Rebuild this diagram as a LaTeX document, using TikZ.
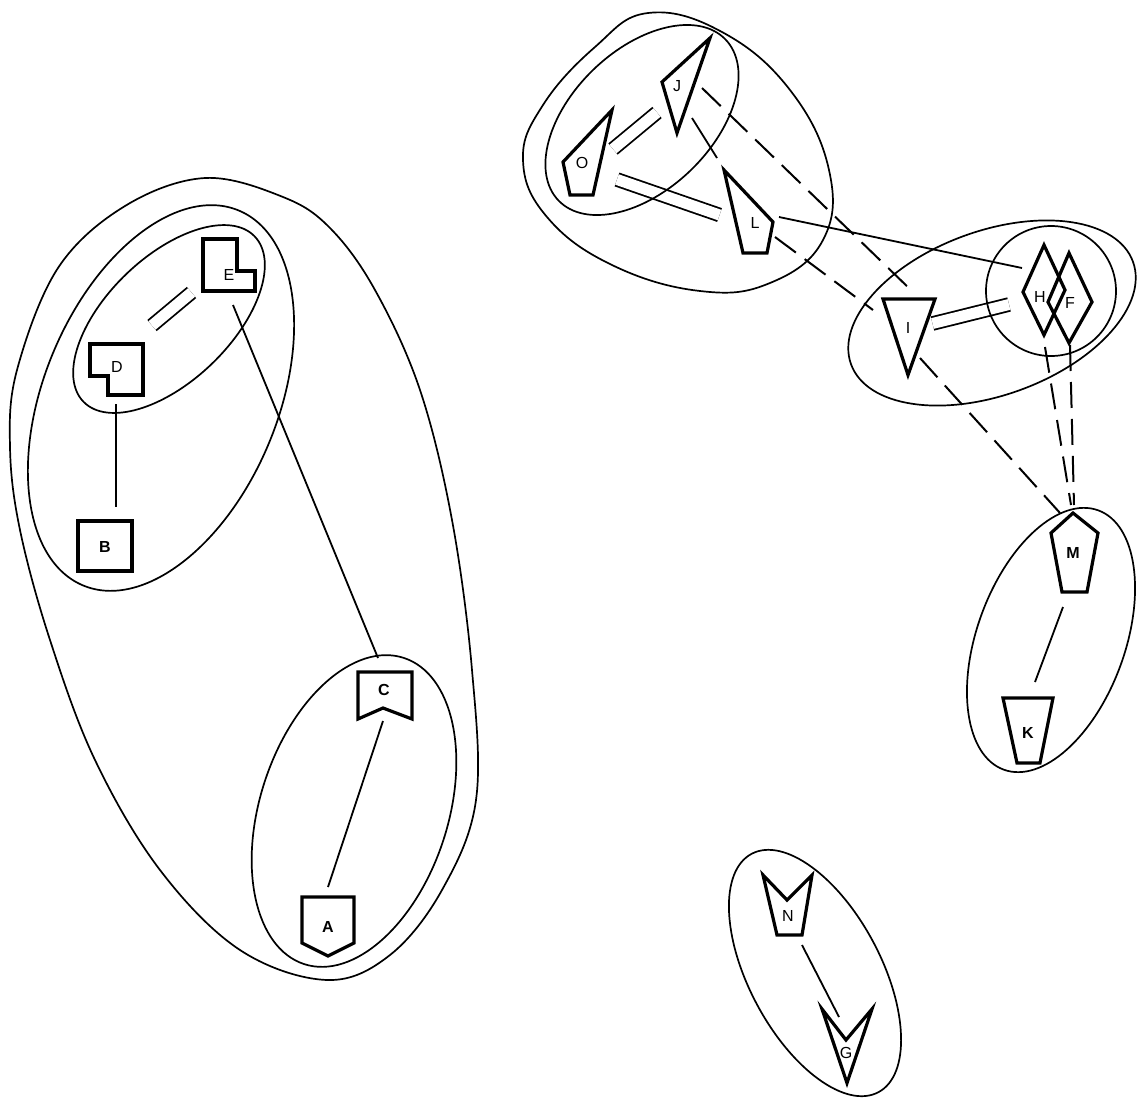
\documentclass[tikz,border=0pt]{standalone}
\usepackage{fontspec}
\setmainfont{Liberation Sans}
\begin{document}
\begin{tikzpicture}[x=1pt,y=-1pt,
  shp/.style={line width=3.2pt, line join=miter},
  conn/.style={line width=1.8pt},
  dsh/.style={line width=2pt, dash pattern=on 26pt off 11pt},
  dbl/.style={double, double distance=11pt, line width=1.8pt},
  grp/.style={line width=1.7pt},
  lbl/.style={font=\fontsize{16}{16}\selectfont, inner sep=0pt},
  lblb/.style={font=\fontsize{16}{16}\selectfont\bfseries, inner sep=0pt}]
\useasboundingbox (0,0) rectangle (1138,1101);
\fill[white] (0,0) rectangle (1138,1101);

% connector end points
\coordinate (dE) at (152,325.5);   \coordinate (eD) at (191.5,292.5);
\coordinate (dB) at (116,404);     \coordinate (bD) at (116,507);
\coordinate (eC) at (233,305);     \coordinate (cE) at (378,658);
\coordinate (cA) at (383,721);     \coordinate (aC) at (328,887);
\coordinate (oJ) at (613,149);     \coordinate (jO) at (657,112.5);
\coordinate (oL) at (617,179.5);   \coordinate (lO) at (719.5,215);
\coordinate (jL) at (692,118);     \coordinate (lJ) at (717,158);
\coordinate (lH) at (779,217);     \coordinate (hL) at (1022,268);
\coordinate (jI) at (702,88);      \coordinate (iJ) at (913,292);
\coordinate (lI) at (775,237);     \coordinate (iL) at (873,310);
\coordinate (iH) at (932.5,323.5); \coordinate (hI) at (1009,304.5);
\coordinate (iM) at (920,358);     \coordinate (mI) at (1060,513);
\coordinate (hM) at (1045,347);    \coordinate (mH) at (1071,505);
\coordinate (fM) at (1070,345);    \coordinate (mF) at (1074,505);
\coordinate (mK) at (1063,607);    \coordinate (kM) at (1035,682);
\coordinate (nG) at (802,945);     \coordinate (gN) at (839,1017);

% double connectors
\draw[dbl] (dE) -- (eD);
\draw[dbl] (oJ) -- (jO);
\draw[dbl] (oL) -- (lO);
\draw[dbl] (iH) -- (hI);

% groups
\draw[grp] plot[smooth cycle, tension=0.6] coordinates {(205,178) (283,197) (330,228) (375,290) (420,390) (452,520) (472,670) (476,800) (442,890) (390,955) (327,980) (240,950) (160,870) (95,760) (50,640) (20,530) (10,447) (17,370) (58,268) (125,206)};
\draw[grp, rotate around={44:(169,319)}] (169,319) ellipse [x radius=119, y radius=62];
\draw[grp, rotate around={67.5:(161,398)}] (161,398) ellipse [x radius=203, y radius=117];
\draw[grp, rotate around={72:(354,811)}] (354,811) ellipse [x radius=161, y radius=94];
\draw[grp] plot[smooth cycle, tension=0.7] coordinates {(648,13) (722,32) (790,90) (829,170) (823,240) (770,283) (700,291) (612,265) (547,217) (523,160) (543,105) (595,47)};
\draw[grp, rotate around={44:(642,120)}] (642,120) ellipse [x radius=116, y radius=70];
\draw[grp, rotate around={20:(992,313)}] (992,313) ellipse [x radius=150, y radius=82];
\draw[grp] (1051,291) circle [radius=65];
\draw[grp, rotate around={70:(1051,640)}] (1051,640) ellipse [x radius=138, y radius=74];
\draw[grp, rotate around={-62:(815,973)}] (815,973) ellipse [x radius=135, y radius=66];

% shapes
\draw[shp] (203,239) -- (237,239) -- (237,271) -- (255,271) -- (255,291) -- (203,291) -- cycle;
\draw[shp] (90,344) -- (143,344) -- (143,395) -- (108,395) -- (108,376) -- (90,376) -- cycle;
\draw[shp] (78,521) rectangle (132,571);
\draw[shp] (358,672) -- (412,672) -- (412,719) -- (383,708) -- (358,719) -- cycle;
\draw[shp] (302,897) -- (354,897) -- (354,943) -- (328,956) -- (302,943) -- cycle;
\draw[shp] (710,38) -- (662,82) -- (677,133) -- cycle;
\draw[shp] (612,110) -- (563,162) -- (570,195) -- (593,195) -- cycle;
\draw[shp] (724,170) -- (773,222) -- (767,253) -- (743,253) -- cycle;
\draw[shp] (883,299) -- (935,299) -- (908,375) -- cycle;
\draw[shp] (1044,245) -- (1065,290) -- (1044,335) -- (1023,292) -- cycle;
\draw[shp] (1069,253) -- (1092,302) -- (1069,343) -- (1048,302) -- cycle;
\draw[shp] (1073,513) -- (1098,533) -- (1087,592) -- (1062,592) -- (1051,533) -- cycle;
\draw[shp] (1003,698) -- (1053,698) -- (1040,763) -- (1017,763) -- cycle;
\draw[shp] (763,875) -- (787,900) -- (812,875) -- (802,935) -- (777,935) -- cycle;
\draw[shp] (822,1009) -- (846,1040) -- (872,1009) -- (847,1083) -- cycle;

% labels
\node[lbl]  (E) at (229,275) {E};
\node[lbl]  (D) at (117,367) {D};
\node[lblb] (B) at (105,547) {B};
\node[lblb] (C) at (384,690) {C};
\node[lblb] (A) at (328,927) {A};
\node[lbl]  (J) at (677,86) {J};
\node[lbl]  (O) at (582,163) {O};
\node[lbl]  (L) at (755,223) {L};
\node[lbl]  (I) at (908,328) {I};
\node[lbl]  (H) at (1040,297) {H};
\node[lbl]  (F) at (1070,303) {F};
\node[lblb] (M) at (1073,553) {M};
\node[lblb] (K) at (1028,733) {K};
\node[lbl]  (N) at (788,916) {N};
\node[lbl]  (G) at (846,1053) {G};

% plain connectors
\draw[conn] (dB) -- (bD);
\draw[conn] (eC) -- (cE);
\draw[conn] (cA) -- (aC);
\draw[conn] (jL) -- (lJ);
\draw[conn] (lH) -- (hL);
\draw[conn] (mK) -- (kM);
\draw[conn] (nG) -- (gN);
\draw[dsh] (jI) -- (iJ);
\draw[dsh] (lI) -- (iL);
\draw[dsh] (iM) -- (mI);
\draw[dsh] (hM) -- (mH);
\draw[dsh] (fM) -- (mF);
\end{tikzpicture}
\end{document}
